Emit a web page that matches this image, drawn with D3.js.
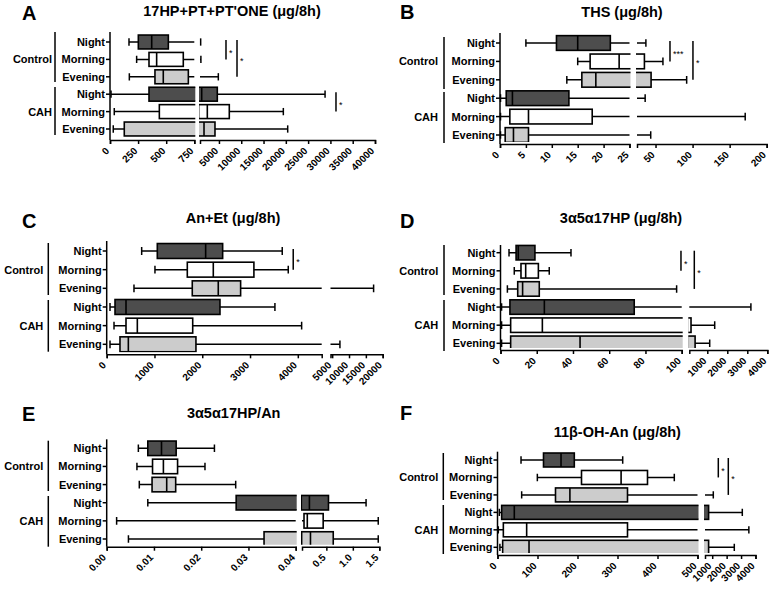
<!DOCTYPE html>
<html><head><meta charset="utf-8">
<script src="https://cdn.jsdelivr.net/npm/d3@7"></script>
<style>
body{margin:0;background:#fff;}
svg text{font-family:"Liberation Sans",Arial,Helvetica,sans-serif;font-weight:bold;fill:#000;}
</style></head><body>
<svg id="chart" width="774" height="592"></svg>
<script>
// ---------- data ----------
const rowLabels = ["Night","Morning","Evening","Night","Morning","Evening"];
const groupLabels = ["Control","CAH"];
const panelLetters = ["A","B","C","D","E","F"];
const panelTitles = ["17HP+PT+PT'ONE (\u03bcg/8h)","THS (\u03bcg/8h)","An+Et (\u03bcg/8h)",
  "3\u03b15\u03b117HP (\u03bcg/8h)","3\u03b15\u03b117HP/An","11\u03b2-OH-An (\u03bcg/8h)"];

// each row: [min, Q1, median, Q3, max]
const statsA = [[169,252,371,519,900],[237,347,415,652,950],[172,400,474,697,4860],
  [9,347,1130,4630,28800],[38,439,2390,7320,19440],[29,127,1650,4110,20420]];
const statsB = [[5.0,10.9,15.0,21.3,37],[15.0,17.4,23.0,35,60],[12.9,15.8,18.5,44,92],
  [0.1,1.2,2.4,13.3,36],[0.1,1.9,5.5,17.8,171],[0.1,1.0,2.6,5.5,43.5]];
const statsC = [[732,1059,2071,2427,3674],[1010,1687,2231,3081,3800],[571,1791,2335,2803,17300],
  [69,174,404,2371,3521],[153,404,641,1800,4080],[69,278,453,1868,7300]];
const statsD = [[4.7,8.6,9.8,19.0,38.9],[7.6,11.3,13.9,20.9,26.9],[3.8,9.5,12.2,21.4,97.2],
  [0.6,5.2,24.2,73.8,3180],[0.6,5.6,23.1,186,1370],[0.6,5.6,43.9,390,1120]];
const statsE = [[0.0067,0.0087,0.0116,0.0147,0.0228],[0.0064,0.0097,0.0120,0.0150,0.0208],
  [0.0069,0.0096,0.0127,0.0146,0.0273],[0.0087,0.0274,0.18,0.54,1.25],
  [0.0021,0.078,0.14,0.44,1.48],[0.0046,0.0333,0.20,0.63,1.48]];
const statsF = [[58.8,115,158.8,192,313],[99.6,210,309,375,442],[60.4,145,181,325,1075],
  [4.6,10.4,42,750,3085],[2,14.6,72.9,325,3540],[6,12.9,78.8,750,2530]];

// broken-axis segments (value domains)
const breaksA = [[0,750],[750,40000]];
const breaksB = [[0,25],[25,200]];
const breaksC = [[0,4500],[4500,20000]];
const breaksD = [[0,100],[100,4000]];
const breaksE = [[0,0.04],[0.04,1.5]];
const breaksF = [[0,500],[500,4000]];

// tick values per segment
const ticksA = [[0,250,500,750],[5000,10000,15000,20000,25000,30000,35000,40000]];
const ticksB = [[0,5,10,15,20,25],[50,100,150,200]];
const ticksC = [[0,1000,2000,3000,4000],[5000,10000,15000,20000]];
const ticksD = [[0,20,40,60,80,100],[1000,2000,3000,4000]];
const ticksE = [[0,0.01,0.02,0.03,0.04],[0.5,1.0,1.5]];
const ticksF = [[0,100,200,300,400,500],[1000,2000,3000,4000]];

// significance: [fromRow, toRow, x value, label]
const sigA = [[0,1,6580,"*"],[0,2,9050,"*"],[3,4,31250,"*"]];
const sigB = [[0,1,69.5,"***"],[0,2,100.5,"*"]];
const sigC = [[0,1,3904,"*"]];
const sigD = [[0,1,99.6,"*"],[0,2,350,"*"]];
const sigE = [];
const sigF = [[0,1,1422,"*"],[0,2,2115,"*"]];

// ---------- layout (pixels) ----------
const layouts = [
  {ranges:[[110,194.3],[200,375]], letter:[22,20], title:[232,16], axisY:140, rowY:[42,129], yTop:32,
   groupX:52, bracketX:55, brackets:[[32,82],[87,135]]},
  {ranges:[[500,629.5],[637,766.7]], letter:[400,18.5], title:[622,16.5], axisY:144, rowY:[43,135], yTop:33,
   groupX:438, bracketX:444, brackets:[[37,89],[92,143]]},
  {ranges:[[106.7,321.7],[330.5,382.7]], letter:[22,228], title:[233,223], axisY:354.3, rowY:[251,344.3], yTop:241,
   groupX:43.3, bracketX:48.3, brackets:[[243,295],[300,351.7]]},
  {ranges:[[500.5,681.7],[689.3,767.3]], letter:[400,228], title:[621,223], axisY:350, rowY:[252.7,343.3], yTop:245,
   groupX:438.3, bracketX:444, brackets:[[245,295],[300,351]]},
  {ranges:[[106.7,295.7],[302,379.3]], letter:[22,421], title:[233.7,418], axisY:546.7, rowY:[448.3,539], yTop:439.3,
   groupX:43.3, bracketX:48.3, brackets:[[440.7,491],[496,546.7]]},
  {ranges:[[497.5,697.5],[705,755.5]], letter:[400,420], title:[617.3,436.5], axisY:555, rowY:[460,547.3], yTop:451.7,
   groupX:438.3, bracketX:443.3, brackets:[[453,500],[505,554]]}
];

const allStats = [statsA,statsB,statsC,statsD,statsE,statsF];
const allBreaks = [breaksA,breaksB,breaksC,breaksD,breaksE,breaksF];
const allTicks = [ticksA,ticksB,ticksC,ticksD,ticksE,ticksF];
const allSig = [sigA,sigB,sigC,sigD,sigE,sigF];
const fmtPlain = d => String(d);
const allFmt = [[fmtPlain,fmtPlain],[fmtPlain,fmtPlain],[fmtPlain,fmtPlain],[fmtPlain,fmtPlain],
  [d3.format(".2f"), d3.format(".1f")],[fmtPlain,fmtPlain]];
const rowFill = ["#4d4d4d","#ffffff","#cccccc","#4d4d4d","#ffffff","#cccccc"];

const svg = d3.select("#chart");
const SW = 1.5;

allStats.forEach((stats, p) => {
  const L = layouts[p];
  const g = svg.append("g");
  const segs = allBreaks[p].map((dom, i) => d3.scaleLinear().domain(dom).range(L.ranges[i]));
  const xPiece = v => {
    for (const s of segs) { const d = s.domain(); if (v >= d[0] && v <= d[1]) return s(v); }
    return segs[segs.length-1](v);
  };
  const y = d3.scalePoint().domain(d3.range(rowLabels.length)).range(L.rowY);
  const step = y.step();
  const boxH = step * 0.8, capH = step * 0.42;
  const x0 = L.ranges[0][0];

  // letter & title
  g.append("text").attr("x", L.letter[0]).attr("y", L.letter[1]).style("font-size","20px").text(panelLetters[p]);
  g.append("text").attr("x", L.title[0]).attr("y", L.title[1]).attr("text-anchor","middle")
    .style("font-size","14.5px").text(panelTitles[p]);

  // boxes, per segment with clipping
  segs.forEach((sc, i) => {
    const r = L.ranges[i];
    const dom = sc.domain();
    const inDom = v => v >= dom[0] && v <= dom[1];
    const id = `clip${p}_${i}`;
    svg.append("clipPath").attr("id", id).append("rect")
      .attr("x", r[0] - (i === 0 ? 6 : 1)).attr("y", L.yTop - 10)
      .attr("width", r[1] - r[0] + (i === 0 ? 7 : 2)).attr("height", L.axisY - L.yTop + 8);
    const gs = g.append("g").attr("clip-path", `url(#${id})`);
    stats.forEach((s, k) => {
      const cy = y(k);
      const row = gs.append("g");
      const wLo = Math.max(s[0], dom[0]), wHi = Math.min(s[4], dom[1]);
      if (wLo < wHi) {
        row.append("line").attr("x1", sc(wLo)).attr("x2", sc(wHi)).attr("y1", cy).attr("y2", cy)
          .attr("stroke","#000").attr("stroke-width", SW);
      }
      [s[0], s[4]].filter(inDom).forEach(v => row.append("line").attr("x1", sc(v)).attr("x2", sc(v))
        .attr("y1", cy - capH/2).attr("y2", cy + capH/2).attr("stroke","#000").attr("stroke-width", SW));
      if (Math.max(s[1], dom[0]) < Math.min(s[3], dom[1])) {
        row.append("rect").attr("x", sc(s[1])).attr("width", sc(s[3]) - sc(s[1]))
          .attr("y", cy - boxH/2).attr("height", boxH)
          .attr("fill", rowFill[k]).attr("stroke","#000").attr("stroke-width", 1.6);
      }
      if (inDom(s[2])) {
        row.append("line").attr("x1", sc(s[2])).attr("x2", sc(s[2]))
          .attr("y1", cy - boxH/2).attr("y2", cy + boxH/2).attr("stroke","#000").attr("stroke-width", 1.6);
      }
    });

    // x axis segment
    const ax = d3.axisBottom(sc).tickValues(allTicks[p][i]).tickSize(4).tickSizeOuter(4).tickFormat(allFmt[p][i]);
    const ga = g.append("g").attr("transform", `translate(0,${L.axisY})`).call(ax);
    ga.select(".domain").attr("stroke-width", SW);
    ga.selectAll(".tick line").attr("stroke-width", SW);
    ga.selectAll(".tick text").attr("y", 0).attr("dy", "0.35em").attr("text-anchor", "end")
      .attr("transform", "translate(-3,9) rotate(-45)").style("font-size", "10px");
  });

  // y axis
  g.append("line").attr("x1", x0).attr("x2", x0).attr("y1", L.yTop).attr("y2", L.axisY)
    .attr("stroke","#000").attr("stroke-width", SW);
  rowLabels.forEach((lab, k) => {
    g.append("line").attr("x1", x0 - 4).attr("x2", x0).attr("y1", y(k)).attr("y2", y(k))
      .attr("stroke","#000").attr("stroke-width", SW);
    g.append("text").attr("x", x0 - 5).attr("y", y(k)).attr("dy","0.36em").attr("text-anchor","end")
      .style("font-size","11px").text(lab);
  });

  // group brackets
  groupLabels.forEach((lab, gi) => {
    const b = L.brackets[gi];
    g.append("line").attr("x1", L.bracketX).attr("x2", L.bracketX).attr("y1", b[0]).attr("y2", b[1])
      .attr("stroke","#000").attr("stroke-width", SW);
    g.append("text").attr("x", L.groupX).attr("y", y(gi*3 + 1)).attr("dy","0.36em").attr("text-anchor","end")
      .style("font-size","11px").text(lab);
  });

  // significance
  allSig[p].forEach(sg => {
    const sx = xPiece(sg[2]);
    const y1 = y(sg[0]), y2 = y(sg[1]);
    g.append("line").attr("x1", sx).attr("x2", sx).attr("y1", y1 - 2).attr("y2", y2)
      .attr("stroke","#000").attr("stroke-width", SW);
    g.append("text").attr("x", sx + 3).attr("y", (y1 + y2)/2 + 5).style("font-size","9px")
      .style("font-weight","normal").text(sg[3]);
  });
});
</script>
</body></html>
